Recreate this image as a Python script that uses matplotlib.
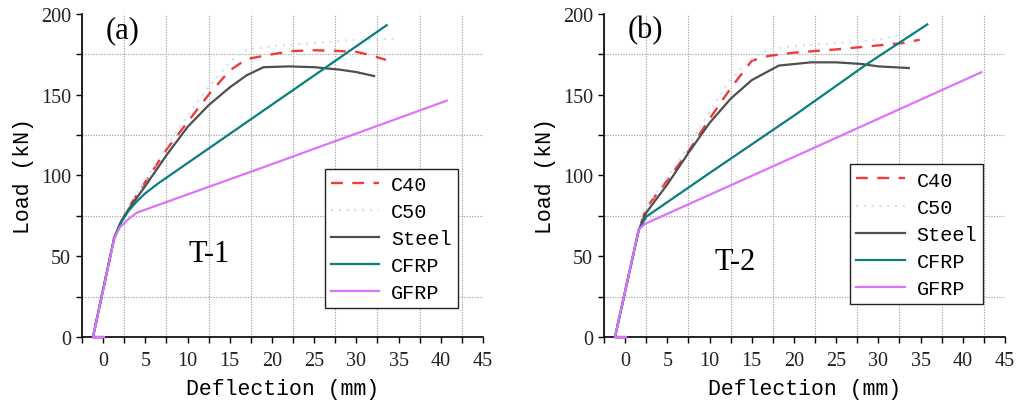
import matplotlib
matplotlib.use("Agg")
import matplotlib.pyplot as plt
from matplotlib.ticker import FixedLocator

# ---------------- data: panel (a) T-1 ----------------
a_c40_x = [0.1, -1.2, 1.3, 2.0, 3.0, 5.0, 7.5, 10.0, 12.5, 15.0, 17.0, 20.0, 22.5, 25.0, 28.0, 30.0, 32.0, 33.5]
a_c40_y = [0, 0, 61, 70, 80, 96, 116, 133, 150, 165, 172, 175, 177, 177.5, 177, 176.5, 174, 171.5]
a_c50_x = [0.1, -1.2, 1.3, 3.0, 5.0, 7.5, 10.0, 12.5, 15.0, 17.0, 20.0, 25.0, 30.0, 34.6]
a_c50_y = [0, 0, 61, 81, 97, 118, 137, 155, 170, 178, 180, 182, 184, 184.5]
a_steel_x = [0.1, -1.2, 1.3, 2.0, 3.0, 5.0, 7.5, 10.0, 12.5, 15.0, 17.0, 19.0, 22.0, 25.0, 28.0, 30.0, 32.1]
a_steel_y = [0, 0, 61, 70, 79, 93.5, 112.5, 130, 143.5, 154.5, 162, 167, 167.5, 167, 165.5, 164, 161.5]
a_cfrp_x = [0.1, -1.2, 1.3, 2.0, 3.0, 4.0, 5.0, 6.5, 20.0, 33.6]
a_cfrp_y = [0, 0, 61, 70, 78, 84, 89, 95, 143.8, 193]
a_gfrp_x = [0.1, -1.2, 1.3, 1.6, 2.0, 3.0, 4.0, 20.0, 40.7]
a_gfrp_y = [0, 0, 60.5, 64, 68, 73, 77, 107, 146.3]

# ---------------- data: panel (b) T-2 ----------------
b_c40_x = [0.1, -1.2, 1.6, 2.5, 5.0, 7.5, 10.0, 12.5, 15.0, 17.0, 20.0, 25.0, 30.0, 33.0, 34.9]
b_c40_y = [0, 0, 66, 80, 97, 115, 135, 154, 171, 174, 176, 178, 180.5, 182, 184]
b_c50_x = [0.1, -1.2, 1.6, 2.5, 5.0, 7.5, 10.0, 12.5, 15.0, 17.0, 20.0, 25.0, 30.0, 34.3]
b_c50_y = [0, 0, 66, 81, 99, 118, 139, 160, 172, 178, 180, 182, 184, 189]
b_steel_x = [0.1, -1.2, 1.6, 2.5, 5.0, 7.5, 10.0, 12.5, 15.0, 18.2, 22.0, 25.0, 28.0, 30.0, 33.6]
b_steel_y = [0, 0, 66, 77, 94.5, 114, 132.5, 147.5, 159, 168, 170, 170, 169, 167.5, 166.5]
b_cfrp_x = [0.1, -1.2, 1.6, 2.5, 10.0, 20.0, 28.8, 35.8]
b_cfrp_y = [0, 0, 66, 74.5, 101.5, 137, 169.5, 193.5]
b_gfrp_x = [0.1, -1.2, 1.6, 2.4, 20.0, 42.2]
b_gfrp_y = [0, 0, 66.5, 70.2, 111.5, 163.9]

series_names = ["C40", "C50", "Steel", "CFRP", "GFRP"]
panel_labels = ["(a)", "(b)"]
panel_titles = ["T-1", "T-2"]
x_ticks = [0, 5, 10, 15, 20, 25, 30, 35, 40, 45]
y_ticks = [0, 50, 100, 150, 200]

panels = [
    [(a_c40_x, a_c40_y), (a_c50_x, a_c50_y), (a_steel_x, a_steel_y), (a_cfrp_x, a_cfrp_y), (a_gfrp_x, a_gfrp_y)],
    [(b_c40_x, b_c40_y), (b_c50_x, b_c50_y), (b_steel_x, b_steel_y), (b_cfrp_x, b_cfrp_y), (b_gfrp_x, b_gfrp_y)],
]

styles = [
    dict(color="#ee3b3b", linestyle=(0, (5, 4)), lw=1.7),
    dict(color="#d2e4f6", linestyle=(0, (1, 2.5)), lw=1.6),
    dict(color="#4f4f4f", linestyle="-", lw=1.6),
    dict(color="#0b7d7b", linestyle="-", lw=1.6),
    dict(color="#dd72fb", linestyle="-", lw=1.6),
]

serif = "Liberation Serif"
mono = "Liberation Mono"

fig = plt.figure(figsize=(10.16, 4.02), dpi=100)
positions = [[0.0807, 0.159, 0.3947, 0.804], [0.5945, 0.159, 0.3947, 0.804]]
legend_anchor = [(0.937, 0.089), (0.946, 0.103)]
label_pos = [(0.35, 190), (0.35, 190)]
title_pos = [(12.6, 52), (13.0, 46.6)]

for i, ax_pos in enumerate(positions):
    ax = fig.add_axes(ax_pos)
    for (xs, ys), name, st in zip(panels[i], series_names, styles):
        ax.plot(xs, ys, label=name, clip_on=False, zorder=3, **st)
    ax.set_xlim(-2.5, 45)
    ax.set_ylim(0, 200)
    ax.xaxis.set_major_locator(FixedLocator(x_ticks))
    ax.xaxis.set_minor_locator(FixedLocator([-2.5 + 5 * k for k in range(10)]))
    ax.yaxis.set_major_locator(FixedLocator(y_ticks))
    ax.yaxis.set_minor_locator(FixedLocator([25, 75, 125, 175]))
    ax.tick_params(which="both", direction="out", length=4, width=1, labelsize=14.5)
    ax.tick_params(axis="x", which="major", pad=6)
    ax.tick_params(axis="y", which="major", pad=4)
    ax.grid(False)
    ax.grid(True, which="minor", color="#a8a8a8", linestyle=(0, (1.2, 1.2)), lw=0.8)
    for lab in ax.get_xticklabels() + ax.get_yticklabels():
        lab.set_fontfamily(serif)
        lab.set_color("#222222")
    for s in ["top", "right"]:
        ax.spines[s].set_visible(False)
    for s in ["left", "bottom"]:
        ax.spines[s].set_linewidth(1.2)
    ax.set_xlabel("Deflection (mm)", fontfamily=mono, fontsize=15.5, labelpad=6)
    ax.set_ylabel("Load (kN)", fontfamily=mono, fontsize=15.5, labelpad=5)
    ax.text(*label_pos[i], panel_labels[i], fontfamily=serif, fontsize=22, va="center", ha="left")
    ax.text(*title_pos[i], panel_titles[i], fontfamily=serif, fontsize=22, va="center", ha="center")
    leg = ax.legend(loc="lower right", bbox_to_anchor=legend_anchor[i],
                    prop=dict(family=mono, size=14.5), frameon=True, fancybox=False,
                    edgecolor="#222222", framealpha=1, handlelength=2.4, handletextpad=0.6,
                    labelspacing=0.4, borderpad=0.3, borderaxespad=0)
    leg.get_frame().set_linewidth(1.0)

fig.savefig("out.png", dpi=100)
